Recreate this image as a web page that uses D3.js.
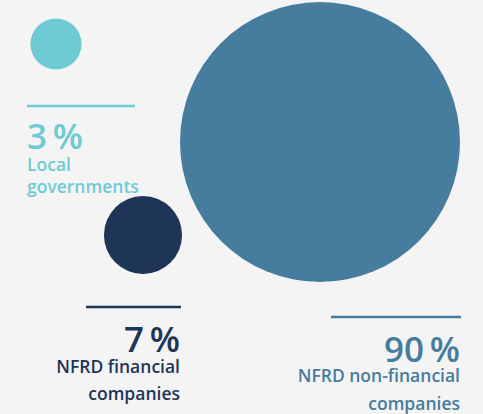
<!DOCTYPE html>
<html>
<head>
<meta charset="utf-8">
<script src="https://cdn.jsdelivr.net/npm/d3@7/dist/d3.min.js"></script>
<style>
  html, body { margin: 0; padding: 0; background: #f4f4f4; }
  svg { display: block; font-family: "Open Sans", "Noto Sans", sans-serif; }
</style>
</head>
<body>
<svg id="chart" width="483" height="414"></svg>
<script>
// Share of reporting entities by type (percent)
const categories = ["Local governments", "NFRD financial companies", "NFRD non-financial companies"];
const shares = [3, 7, 90];
const labelLines = [["Local", "governments"], ["NFRD financial", "companies"], ["NFRD non-financial", "companies"]];
const colors = ["#6ecbd3", "#1e3557", "#467c9e"];

// Placement of each bubble and its label block
const layout = [
  { cx: 56,  cy: 44,  lineX0: 27,  lineX1: 135, lineY: 106, anchor: "start", textX: 27,  pctY: 149, lblY: 171, lineGap: 22 },
  { cx: 143, cy: 235, lineX0: 86,  lineX1: 181, lineY: 307, anchor: "end",   textX: 180, pctY: 352, lblY: 373, lineGap: 27 },
  { cx: 320, cy: 142, lineX0: 331, lineX1: 461, lineY: 317, anchor: "end",   textX: 460, pctY: 362, lblY: 382, lineGap: 28 }
];

const svg = d3.select("#chart");
const r = d3.scaleSqrt().domain([0, d3.max(shares)]).range([0, 140]);

const items = categories.map((c, i) => ({ name: c, value: shares[i], lines: labelLines[i], color: colors[i], ...layout[i] }));

svg.append("g").selectAll("circle").data(items).join("circle")
  .attr("cx", d => d.cx).attr("cy", d => d.cy)
  .attr("r", d => r(d.value))
  .attr("fill", d => d.color);

const lab = svg.append("g").selectAll("g").data(items).join("g");

lab.append("line")
  .attr("x1", d => d.lineX0).attr("x2", d => d.lineX1)
  .attr("y1", d => d.lineY).attr("y2", d => d.lineY)
  .attr("stroke", d => d.color).attr("stroke-width", 2.5);

lab.append("text")
  .attr("x", d => d.textX).attr("y", d => d.pctY)
  .attr("text-anchor", d => d.anchor)
  .attr("fill", d => d.color)
  .attr("font-size", 35).attr("font-weight", 600)
  .text(d => d.value + "\u2009%");

lab.append("text")
  .attr("y", d => d.lblY)
  .attr("text-anchor", d => d.anchor)
  .attr("fill", d => d.color)
  .attr("font-size", 17.5).attr("font-weight", 600)
  .selectAll("tspan").data(d => d.lines.map((t, k) => ({ t, k, x: d.textX, gap: d.lineGap }))).join("tspan")
  .attr("x", d => d.x).attr("dy", d => d.k === 0 ? 0 : d.gap)
  .text(d => d.t);
</script>
</body>
</html>
